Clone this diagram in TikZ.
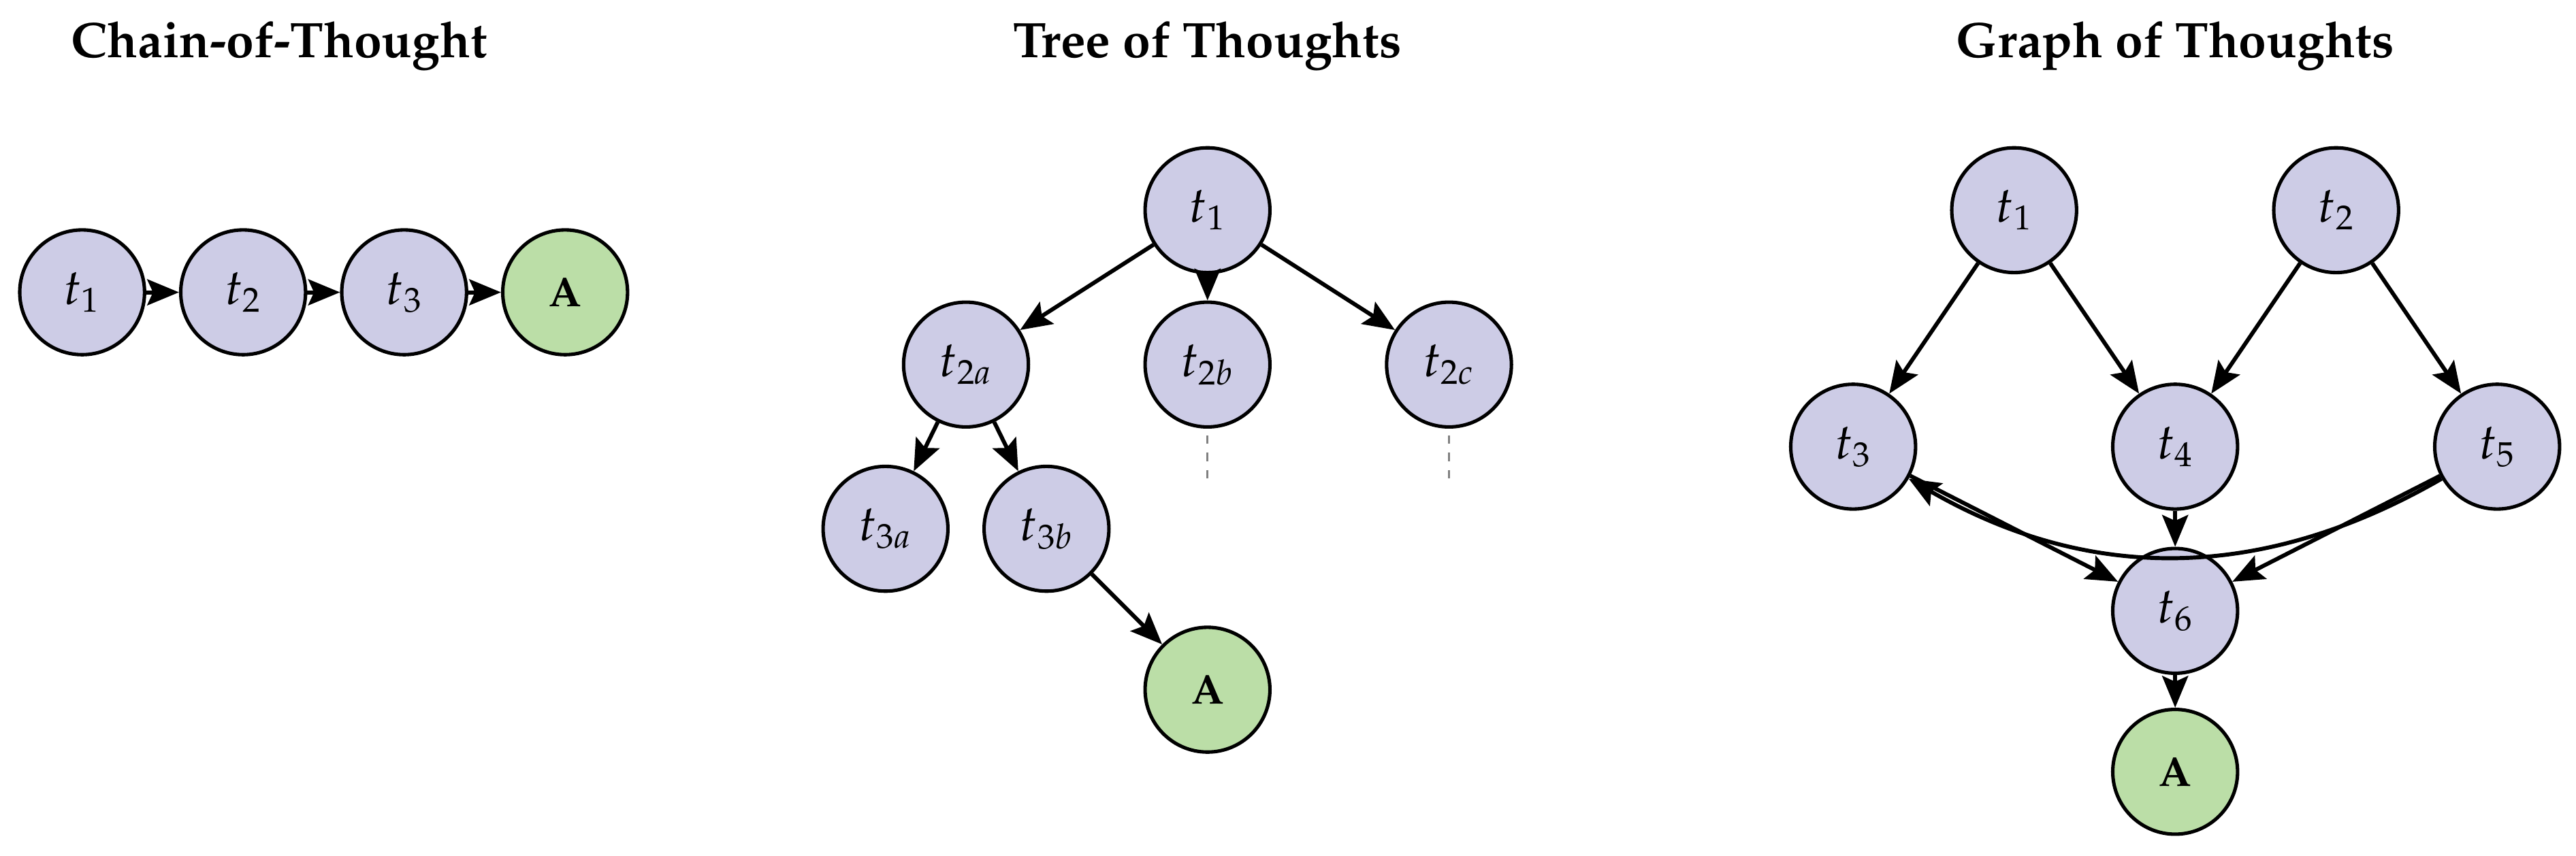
\documentclass[tikz,border=0pt]{standalone}
\usepackage[T1]{fontenc}
\usepackage{mathpazo}
\usetikzlibrary{arrows.meta,positioning}
\definecolor{thoughtFill}{RGB}{205,204,230}
\definecolor{answerFill}{RGB}{187,222,167}
\tikzset{
  thought/.style={circle,draw,line width=1.2pt,fill=thoughtFill,minimum size=1.52cm,inner sep=0pt,font=\LARGE},
  answer/.style={thought,fill=answerFill,font=\Large\bfseries},
  arr/.style={line width=1.4pt,-{Stealth[length=11pt,width=9pt,inset=2pt]}},
  title/.style={font=\LARGE\bfseries}
}
\begin{document}
\begin{tikzpicture}[x=0.02cm,y=-0.02cm]
  \useasboundingbox (0,0) rectangle (1568,521);
  % Chain-of-Thought
  \node[title] (cotT) at (170,28) {Chain-of-Thought};
  \node[thought] (c1) at (50,178) {$t_1$};
  \node[thought] (c2) at (148,178) {$t_2$};
  \node[thought] (c3) at (246,178) {$t_3$};
  \node[answer] (cA) at (344,178) {A};
  \draw[arr] (c1) -- (c2);
  \draw[arr] (c2) -- (c3);
  \draw[arr] (c3) -- (cA);

  % Tree of Thoughts
  \node[title] (totT) at (735,28) {Tree of Thoughts};
  \node[thought] (r1) at (735,128) {$t_1$};
  \node[thought] (r2a) at (588,222) {$t_{2a}$};
  \node[thought] (r2b) at (735,222) {$t_{2b}$};
  \node[thought] (r2c) at (882,222) {$t_{2c}$};
  \node[thought] (r3a) at (539,322) {$t_{3a}$};
  \node[thought] (r3b) at (637,322) {$t_{3b}$};
  \node[answer] (rA) at (735,420) {A};
  \draw[arr] (r1) -- (r2a);
  \draw[arr] (r1) -- (r2b);
  \draw[arr] (r1) -- (r2c);
  \draw[arr] (r2a) -- (r3a);
  \draw[arr] (r2a) -- (r3b);
  \draw[arr] (r3b) -- (rA);
  \coordinate (e2b) at (735,296);
  \coordinate (e2c) at (882,296);
  \draw[gray,dashed,line width=0.8pt] (r2b.south)++(0,4) -- (e2b);
  \draw[gray,dashed,line width=0.8pt] (r2c.south)++(0,4) -- (e2c);

  % Graph of Thoughts
  \node[title] (gotT) at (1324,28) {Graph of Thoughts};
  \node[thought] (g1) at (1226,128) {$t_1$};
  \node[thought] (g2) at (1422,128) {$t_2$};
  \node[thought] (g3) at (1128,272) {$t_3$};
  \node[thought] (g4) at (1324,272) {$t_4$};
  \node[thought] (g5) at (1520,272) {$t_5$};
  \node[thought] (g6) at (1324,372) {$t_6$};
  \node[answer] (gA) at (1324,470) {A};
  \draw[arr] (g1) -- (g3);
  \draw[arr] (g1) -- (g4);
  \draw[arr] (g2) -- (g4);
  \draw[arr] (g2) -- (g5);
  \draw[arr] (g3) -- (g6);
  \draw[arr] (g4) -- (g6);
  \draw[arr] (g5) -- (g6);
  \draw[arr] (g5) to[bend left=30] (g3);
  \draw[arr] (g6) -- (gA);
\end{tikzpicture}
\end{document}
